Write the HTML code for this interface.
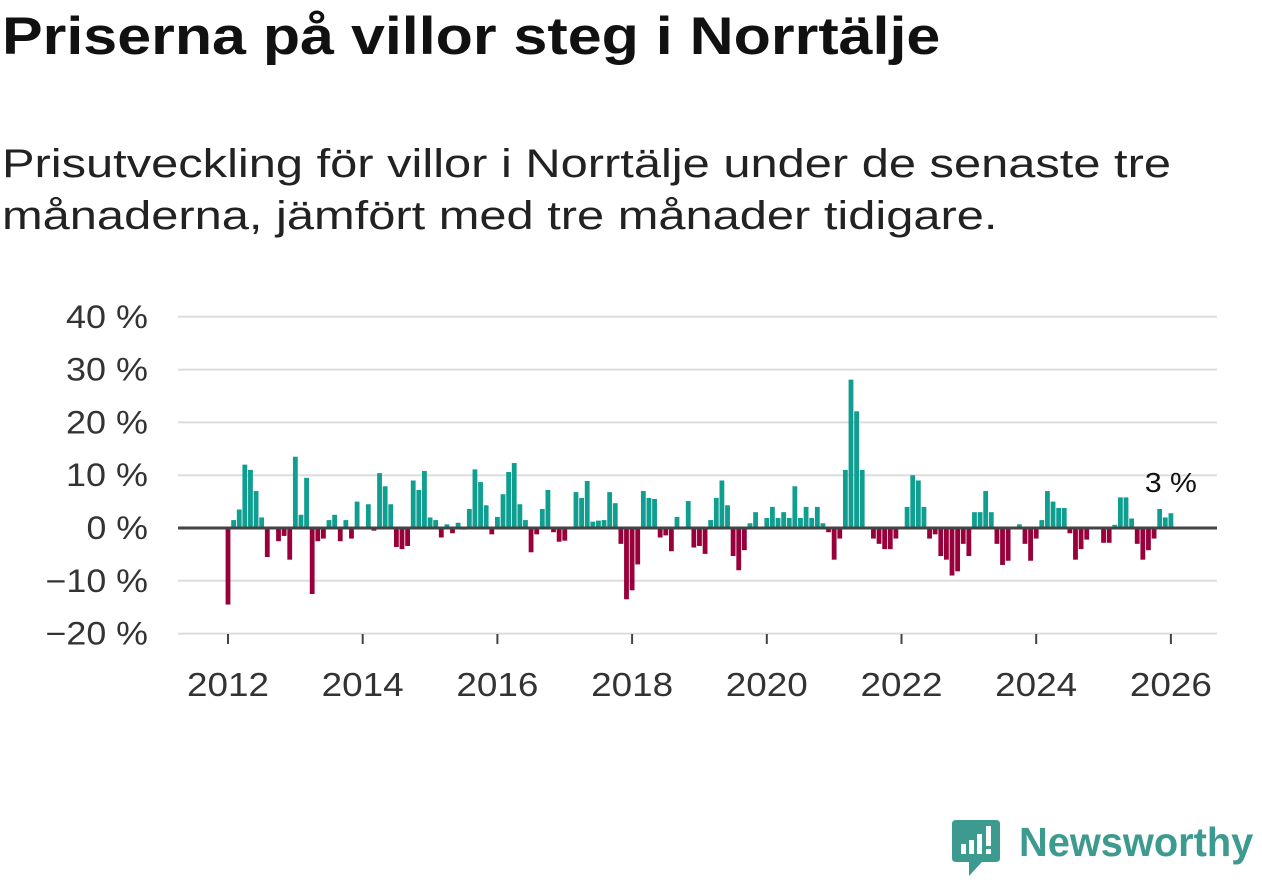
<!DOCTYPE html>
<html><head><meta charset="utf-8"><style>
body{margin:0;width:1262px;height:879px;background:#fff;font-family:"Liberation Sans",sans-serif;overflow:hidden;position:relative}
h1{position:absolute;left:2px;top:6px;margin:0;font-size:53px;font-weight:bold;color:#111;transform:scaleX(1.15);transform-origin:left top;white-space:nowrap}
.sub{position:absolute;left:2px;top:138px;margin:0;font-size:40px;line-height:52px;color:#222;transform:scaleX(1.22);transform-origin:left top;white-space:nowrap}
svg{position:absolute;left:0;top:0}
</style></head><body>
<h1>Priserna på villor steg i Norrtälje</h1>
<p class="sub">Prisutveckling för villor i Norrtälje under de senaste tre<br>månaderna, jämfört med tre månader tidigare.</p>
<svg id="chart" width="1262" height="879"></svg>
<div style="position:absolute;left:952px;top:820px;width:48px;height:58px">
<svg width="48" height="58" style="position:static"><path d="M0 4 Q0 0 4 0 L44 0 Q48 0 48 4 L48 38 Q48 42 44 42 L30 42 L17 56 L17 42 L4 42 Q0 42 0 38Z" fill="#3d9a8f"/><rect x="9" y="24" width="5" height="10" fill="#fff"/><rect x="17" y="20" width="5" height="14" fill="#fff"/><rect x="25" y="14" width="5" height="20" fill="#fff"/><rect x="34" y="6" width="5" height="20" fill="#fff"/><rect x="34" y="29" width="5" height="5" fill="#fff"/></svg></div>
<div style="position:absolute;left:1019px;top:819px;font-size:41px;font-weight:bold;color:#3d9a8f;transform:scaleX(0.97);transform-origin:left top;white-space:nowrap">Newsworthy</div>
<script>
const years=[2012,2014,2016,2018,2020,2022,2024,2026];
const yTicks=[40,30,20,10,0,-10,-20];
const values=[-14.5,1.5,3.5,12,11,7,2,-5.5,0,-2.5,-1.5,-6,13.5,2.5,9.5,-12.5,-2.5,-2,1.5,2.5,-2.5,1.5,-2,5,0,4.5,-0.5,10.4,7.9,4.5,-3.6,-4,-3.4,9,7.2,10.8,2,1.5,-1.8,0.7,-1,1,-0.3,3.6,
11.1,8.7,4.3,-1.2,2.1,6.4,10.6,12.3,4.5,1.5,-4.6,-1.2,3.6,7.2,-0.8,-2.6,-2.4,0,6.8,5.7,8.9,1.2,1.4,1.5,6.8,4.7,-3,-13.5,-11.8,-6.9,7,5.7,5.5,-1.8,-1.4,-4.4,2.1,0,5.1,-3.7,-3.4,-4.9,1.5,
5.7,9,4.3,-5.3,-8,-4.2,0.9,3,0,1.9,4,1.9,3,1.9,7.9,1.9,4,1.9,4,0.9,-0.8,-6,-2,11,28.1,22.1,11,0,-2,-3,-4,-4,-2,0,4,10,9,4,-2,-1.2,-5.3,
-6,-9,-8.2,-3,-5.3,3,3,7,3,-3,-7,-6.2,0,0.7,-3,-6.2,-2,1.5,7,5,3.8,3.8,-1,-6,-4,-2.2,0,0,-2.8,-2.8,0.6,5.8,5.8,1.8,-3,-6,-4.2,-2,3.6,2,2.8];
const startYear=2012;
const svg=document.getElementById('chart');const NS='http://www.w3.org/2000/svg';
const x=m=>228+(m/12)*67.35;
const y=v=>528-v*5.28;
function el(t,a){const e=document.createElementNS(NS,t);for(const k in a)e.setAttribute(k,a[k]);svg.appendChild(e);return e;}
yTicks.forEach(t=>{
 const g=el('line',{x1:178,x2:1217,y1:y(t),y2:y(t),stroke:'#ddd','stroke-width':2});
 
 
 const s=(t<0?'\u2212'+(-t):t)+' %';
 const tx=el('text',{x:148,y:y(t)+11,'text-anchor':'end','font-size':32,fill:'#333','font-family':'Liberation Sans, sans-serif',textLength:s.length*20.5,lengthAdjust:'spacingAndGlyphs'});
 tx.textContent=s;
 
 
});
years.forEach(yr=>{
 const xx=x((yr-startYear)*12);
 const tk=el('line',{x1:xx,x2:xx,y1:634,y2:644,stroke:'#444','stroke-width':2});
 
 
 const tx=el('text',{x:xx,y:696,'text-anchor':'middle','font-size':33,fill:'#333','font-family':'Liberation Sans, sans-serif',textLength:82,lengthAdjust:'spacingAndGlyphs'});
 tx.textContent=yr;
 
 
});
values.forEach((v,i)=>{
 if(v===0)return;
 const xx=x(i);
 const r=el('rect',{x:xx-2.4,width:4.8,y:Math.min(y(v),y(0)),height:Math.abs(y(v)-y(0)),fill:v>0?'#0f9e90':'#97003a'});
 
 
});
const z=el('line',{x1:178,x2:1217,y1:y(0),y2:y(0),stroke:'#444','stroke-width':3});


const last=values[values.length-1];
const lb=el('text',{x:x(values.length-1),y:y(last)-21,'text-anchor':'middle','font-size':28,fill:'#111','font-family':'Liberation Sans, sans-serif',textLength:52,lengthAdjust:'spacingAndGlyphs'});
lb.textContent=Math.round(last)+' %';


</script>
</body></html>
